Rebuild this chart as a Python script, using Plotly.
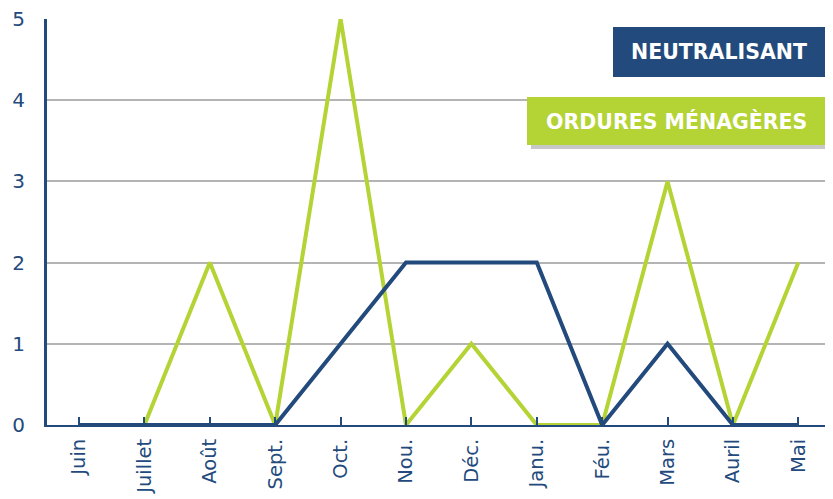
import plotly.graph_objects as go

months = ["Juin", "Juillet", "Août", "Sept.", "Oct.", "Nou.", "Déc.", "Janu.", "Féu.", "Mars", "Auril", "Mai"]
neutralisant = [0, 0, 0, 0, 1, 2, 2, 2, 0, 1, 0, 0]
ordures = [0, 0, 2, 0, 5, 0, 1, 0, 0, 3, 0, 2]
yticks = [0, 1, 2, 3, 4, 5]

NAVY = "#234a7c"
GREEN = "#b4d334"
FONT = "DejaVu Sans"

fig = go.Figure()
fig.add_trace(go.Scatter(x=months, y=ordures, mode="lines", line=dict(color=GREEN, width=4), name="ORDURES MÉNAGÈRES"))
fig.add_trace(go.Scatter(x=months, y=neutralisant, mode="lines", line=dict(color=NAVY, width=4), name="NEUTRALISANT"))

OFF = 8  # page body margin
W, H = 833 - OFF, 499 - OFF
# plot area in screen pixels: x 47..833, y 19..425
L, T = 47 - OFF, 19 - OFF
R = 0
B = H - (425 - OFF)
pw, ph = W - L - R, H - T - B

def px(x):
    return (x - OFF - L) / pw

def py(y):
    return (H - B - (y - OFF)) / ph

shapes = []
shapes.append(dict(type="rect", xref="paper", yref="paper", x0=px(531), x1=px(830), y0=py(149), y1=py(101), fillcolor="#c8c8c8", line=dict(width=0), layer="above"))
shapes.append(dict(type="rect", xref="paper", yref="paper", x0=px(527), x1=px(826), y0=py(145), y1=py(97), fillcolor=GREEN, line=dict(width=0), layer="above"))
shapes.append(dict(type="rect", xref="paper", yref="paper", x0=px(613), x1=px(825), y0=py(77), y1=py(27), fillcolor=NAVY, line=dict(width=0), layer="above"))

annotations = [
    dict(xref="paper", yref="paper", x=px(719), y=py(52), text="<b>NEUTRALISANT</b>", showarrow=False,
         font=dict(family=FONT, size=20.5, color="white"), xanchor="center", yanchor="middle"),
    dict(xref="paper", yref="paper", x=px(676), y=py(121), text="<b>ORDURES MÉNAGÈRES</b>", showarrow=False,
         font=dict(family=FONT, size=20.5, color="white"), xanchor="center", yanchor="middle"),
]

fig.update_layout(
    width=W, height=H,
    margin=dict(l=L, r=R, t=T, b=B, autoexpand=False),
    paper_bgcolor="white", plot_bgcolor="white",
    showlegend=False,
    shapes=shapes, annotations=annotations,
    font=dict(family=FONT, color=NAVY),
)
fig.update_xaxes(
    type="category", range=[-0.49, 11.53], automargin=False,
    showline=True, linecolor=NAVY, linewidth=2,
    ticks="inside", ticklen=8, tickwidth=2, tickcolor=NAVY,
    tickangle=-90, tickfont=dict(family=FONT, size=19.5, color=NAVY),
    ticklabelstandoff=4,
    showgrid=False, zeroline=False,
)
fig.update_yaxes(
    range=[0, 5], tickvals=yticks, ticktext=[str(v) for v in yticks],
    automargin=False, ticklabeloverflow="allow",
    showline=True, linecolor=NAVY, linewidth=3,
    showgrid=True, gridcolor="#b4b4b4", gridwidth=2,
    zeroline=False, ticks="", ticklabelstandoff=15,
    tickfont=dict(family=FONT, size=20, color=NAVY),
)

fig.write_html("out.html")
